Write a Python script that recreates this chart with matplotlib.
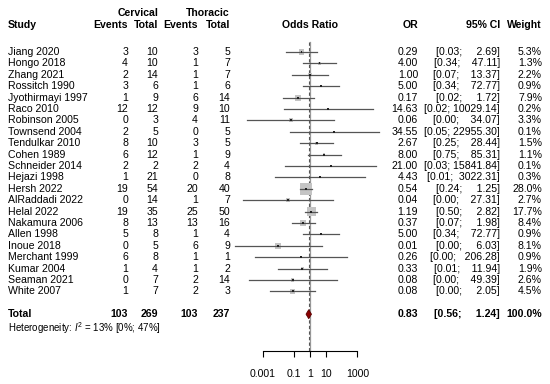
import numpy as np
import matplotlib
matplotlib.use("Agg")
import matplotlib.pyplot as plt

plt.rcParams['font.family'] = ['Liberation Sans', 'DejaVu Sans']
plt.rcParams['mathtext.fontset'] = 'custom'
plt.rcParams['mathtext.rm'] = 'Liberation Sans'
plt.rcParams['mathtext.it'] = 'Liberation Sans:italic'

studies = ["Jiang 2020", "Hongo 2018", "Zhang 2021", "Rossitch 1990", "Jyothirmayi 1997",
           "Raco 2010", "Robinson 2005", "Townsend 2004", "Tendulkar 2010", "Cohen 1989",
           "Schneider 2014", "Hejazi 1998", "Hersh 2022", "AlRaddadi 2022", "Helal 2022",
           "Nakamura 2006", "Allen 1998", "Inoue 2018", "Merchant 1999", "Kumar 2004",
           "Seaman 2021", "White 2007"]
cerv_events = [3, 4, 2, 3, 1, 12, 0, 2, 8, 6, 2, 1, 19, 0, 19, 8, 5, 0, 6, 1, 0, 1]
cerv_total = [10, 10, 14, 6, 9, 12, 3, 5, 10, 12, 2, 21, 54, 14, 35, 13, 8, 5, 8, 4, 7, 7]
thor_events = [3, 1, 1, 1, 6, 9, 4, 0, 3, 1, 2, 0, 20, 1, 25, 13, 1, 6, 1, 1, 2, 2]
thor_total = [5, 7, 7, 6, 14, 10, 11, 5, 5, 9, 4, 8, 40, 7, 50, 16, 4, 9, 1, 2, 14, 3]
odds_ratio = [0.29, 4.00, 1.00, 5.00, 0.17, 14.63, 0.06, 34.55, 2.67, 8.00, 21.00, 4.43,
              0.54, 0.04, 1.19, 0.37, 5.00, 0.01, 0.26, 0.33, 0.08, 0.08]
ci_lower = [0.03, 0.34, 0.07, 0.34, 0.02, 0.0213, 0.0001, 0.052, 0.25, 0.75, 0.028, 0.0065,
            0.24, 0.00006, 0.50, 0.07, 0.34, 0.000017, 0.00033, 0.0091, 0.00013, 0.0031]
ci_upper = [2.69, 47.11, 13.37, 72.77, 1.72, 10029.14, 34.07, 22955.30, 28.44, 85.31,
            15841.84, 3022.31, 1.25, 27.31, 2.82, 1.98, 72.77, 6.03, 206.28, 11.94, 49.39, 2.05]
weights = [5.3, 1.3, 2.2, 0.9, 7.9, 0.2, 3.3, 0.1, 1.5, 1.1, 0.1, 0.3, 28.0, 2.7, 17.7,
           8.4, 0.9, 8.1, 0.9, 1.9, 2.6, 4.5]
total_counts = [103, 269, 103, 237]
pooled = [0.83, 0.56, 1.24]
heterogeneity = r"Heterogeneity: $\mathit{I}^2$ = 13% [0%; 47%]"
tick_vals = [0.001, 0.1, 1, 10, 1000]
tick_labels = ["0.001", "0.1", "1", "10", "1000"]

W, H = 550, 384
FS = 7.6
ROW0, ROWH = 52.0, 11.4
n = len(studies)
row_y = ROW0 + ROWH * np.arange(n)
total_y = ROW0 + ROWH * (n + 1)
het_y = total_y + 13.5
h1_y, h2_y = 12.5, 25.5
axis_y = 351

fig = plt.figure(figsize=(W / 100, H / 100), dpi=100)
ax = fig.add_axes([0, 0, 1, 1])
ax.set_xlim(0, W)
ax.set_ylim(H, 0)
ax.axis('off')

x_study = 8
x_ce, x_ct, x_te, x_tt = 128, 158, 198, 230
x_or, x_ci, x_w = 418, 500, 542

def t(x, y, s, ha='right', bold=False, size=FS):
    ax.text(x, y, s, ha=ha, va='center', fontsize=size,
            fontweight='bold' if bold else 'normal', color='black')

t(x_ct, h1_y, "Cervical", bold=True)
t(x_tt, h1_y, "Thoracic", bold=True)
t(x_study, h2_y, "Study", ha='left', bold=True)
t(x_ce, h2_y, "Events", bold=True)
t(x_ct, h2_y, "Total", bold=True)
t(x_te, h2_y, "Events", bold=True)
t(x_tt, h2_y, "Total", bold=True)
t(310, h2_y, "Odds Ratio", ha='center', bold=True)
t(x_or, h2_y, "OR", bold=True)
t(x_ci, h2_y, "95% CI", bold=True)
t(x_w, h2_y, "Weight", bold=True)

up_strs = [f"{u:.2f}" for u in ci_upper] + [f"{pooled[2]:.2f}"]
maxlen = max(len(s) for s in up_strs)

def ci_text(lo, hi):
    hs = f"{hi:.2f}"
    return f"[{lo:.2f}; " + " " * (maxlen - len(hs)) + hs + "]"

for i in range(n):
    y = row_y[i]
    t(x_study, y, studies[i], ha='left')
    t(x_ce, y, str(cerv_events[i]))
    t(x_ct, y, str(cerv_total[i]))
    t(x_te, y, str(thor_events[i]))
    t(x_tt, y, str(thor_total[i]))
    t(x_or, y, f"{odds_ratio[i]:.2f}")
    t(x_ci, y, ci_text(ci_lower[i], ci_upper[i]))
    t(x_w, y, f"{weights[i]:.1f}%")

t(x_study, total_y, "Total", ha='left', bold=True)
for xx, v in zip([x_ce, x_ct, x_te, x_tt], total_counts):
    t(xx, total_y, str(v), bold=True)
t(x_or, total_y, f"{pooled[0]:.2f}", bold=True)
t(x_ci, total_y, ci_text(pooled[1], pooled[2]), bold=True)
t(x_w, total_y, "100.0%", bold=True)
t(x_study, het_y, heterogeneity, ha='left', size=7.0)

DEC = 15.8
x1 = 310
fax = fig.add_axes([(x1 - 5 * DEC) / W, 0, 10 * DEC / W, 1])
fax.set_xscale('log')
fax.set_xlim(1e-5, 1e5)
fax.set_ylim(H, 0)
fax.patch.set_visible(False)
for s in ['left', 'right', 'top']:
    fax.spines[s].set_visible(False)
fax.spines['bottom'].set_position(('data', axis_y))
fax.spines['bottom'].set_bounds(tick_vals[0], tick_vals[-1])
fax.spines['bottom'].set_linewidth(0.8)
fax.set_yticks([])
fax.set_xticks(tick_vals)
fax.set_xticklabels(tick_labels, fontsize=FS)
fax.xaxis.set_minor_locator(matplotlib.ticker.NullLocator())
fax.tick_params(axis='x', direction='out', length=4, width=0.8, pad=9)

fax.plot([1, 1], [42, axis_y], color='#9a9a9a', lw=0.9, zorder=1)
fax.plot([pooled[0], pooled[0]], [42, axis_y], color='#555555', lw=0.8,
         ls=(0, (3, 2)), zorder=1)

maxw = max(weights)
for i in range(n):
    y = row_y[i]
    side_px = 11.5 * np.sqrt(weights[i] / maxw)
    fax.scatter([odds_ratio[i]], [y], marker='s', s=(side_px * 0.72) ** 2,
                color='#c4c4c4', edgecolors='none', zorder=2, clip_on=False)
    fax.plot([ci_lower[i], ci_upper[i]], [y, y], color='#555555', lw=0.9,
             zorder=3, clip_on=False)
    fax.scatter([odds_ratio[i]], [y], marker='s', s=2.0, color='#222222',
                edgecolors='none', zorder=4, clip_on=False)

dh = 4.5
fax.fill([pooled[1], pooled[0], pooled[2], pooled[0]],
         [total_y, total_y - dh, total_y, total_y + dh],
         facecolor='#8b0000', edgecolor='#5a0000', lw=0.6, zorder=5, clip_on=False)

fig.savefig("out.png", dpi=100)
